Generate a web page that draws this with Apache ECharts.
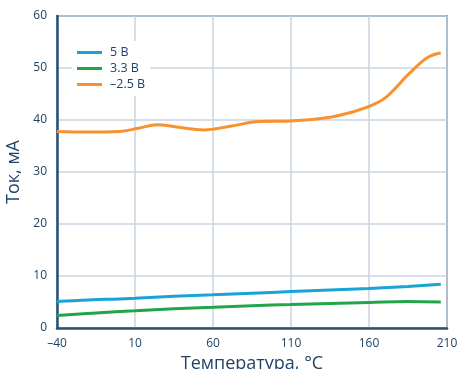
<!DOCTYPE html>
<html>
<head>
<meta charset="utf-8">
<script src="https://cdn.jsdelivr.net/npm/echarts@6/dist/echarts.min.js"></script>
<style>
  html, body { margin: 0; padding: 0; background: #fff; }
  #chart { width: 459px; height: 369px; }
</style>
</head>
<body>
<div id="chart"></div>
<script>
// Supply current vs. temperature for three rails
const seriesNames = ['5 В', '3.3 В', '–2.5 В'];
const xTicks = [-40, 10, 60, 110, 160, 210];

const temp5V   = [-40, -20, 0, 10, 35, 60, 85, 110, 135, 160, 185, 206];
const curr5V   = [5.1, 5.4, 5.6, 5.7, 6.1, 6.4, 6.7, 7.0, 7.3, 7.6, 8.0, 8.4];

const temp3V3  = [-40, -15, 10, 35, 60, 85, 110, 135, 160, 185, 206];
const curr3V3  = [2.4, 2.9, 3.3, 3.7, 4.0, 4.3, 4.5, 4.7, 4.9, 5.1, 5.0];

const tempNeg  = [-40, -20, 0, 12, 24, 38, 54, 71, 90, 110, 134, 150, 160, 171, 186, 198, 206];
const currNeg  = [37.8, 37.7, 37.8, 38.4, 39.1, 38.6, 38.1, 38.8, 39.7, 39.8, 40.5, 41.6, 42.6, 44.4, 49.0, 52.1, 52.9];

const colors = ['#1aa3d5', '#22a54a', '#f7922e'];
const axisColor = '#2a5275';
const textColor = '#1f4266';

function pairs(xs, ys) { return xs.map((x, i) => [x, ys[i]]); }

const chart = echarts.init(document.getElementById('chart'));
chart.setOption({
  animation: false,
  textStyle: { fontFamily: '"Open Sans", "Noto Sans", sans-serif' },
  grid: {
    left: 57, right: 12, top: 16, bottom: 41,
    outerBoundsMode: 'none', containLabel: false,
    show: true, borderColor: axisColor, borderWidth: 1.5
  },
  legend: {
    left: 72, top: 41, orient: 'vertical', itemGap: 3,
    itemWidth: 25, itemHeight: 3, icon: 'rect',
    textStyle: { color: textColor, fontSize: 12.5, padding: [0, 0, 0, 3] },
    backgroundColor: '#fff',
    data: seriesNames
  },
  xAxis: {
    type: 'value', min: -40, max: 210, interval: 50,
    name: 'Температура, °C', nameLocation: 'middle', nameGap: 26,
    nameTextStyle: { color: textColor, fontSize: 18 },
    axisLine: { show: true, onZero: false, lineStyle: { color: axisColor, width: 2.5 } },
    axisTick: { show: false },
    axisLabel: { color: textColor, fontSize: 12, margin: 10, formatter: v => (v < 0 ? '–' + Math.abs(v) : String(v)) },
    splitLine: { show: true, lineStyle: { color: '#c9d5e0', width: 1.5 } }
  },
  yAxis: {
    type: 'value', min: 0, max: 60, interval: 10,
    name: 'Ток, мА', nameLocation: 'middle', nameGap: 31,
    nameTextStyle: { color: textColor, fontSize: 18 },
    axisLine: { show: true, onZero: false, lineStyle: { color: axisColor, width: 2.5 } },
    axisTick: { show: false },
    axisLabel: { color: textColor, fontSize: 12, margin: 10 },
    splitLine: { show: true, lineStyle: { color: '#c9d5e0', width: 1.5 } }
  },
  series: [
    { name: seriesNames[0], type: 'line', data: pairs(temp5V, curr5V), smooth: 0.4, showSymbol: false, lineStyle: { color: colors[0], width: 3 }, itemStyle: { color: colors[0] } },
    { name: seriesNames[1], type: 'line', data: pairs(temp3V3, curr3V3), smooth: 0.4, showSymbol: false, lineStyle: { color: colors[1], width: 3 }, itemStyle: { color: colors[1] } },
    { name: seriesNames[2], type: 'line', data: pairs(tempNeg, currNeg), smooth: 0.4, showSymbol: false, lineStyle: { color: colors[2], width: 3 }, itemStyle: { color: colors[2] } }
  ]
});
</script>
</body>
</html>
